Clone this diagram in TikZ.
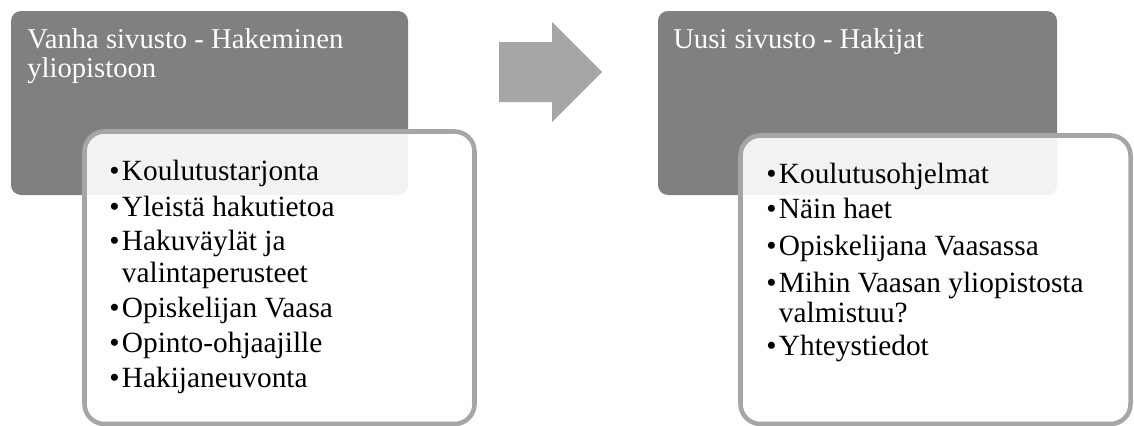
\documentclass[tikz,border=0pt]{standalone}
\usepackage{fontspec}
\setmainfont{Liberation Serif}
\usetikzlibrary{positioning}

\definecolor{boxgray}{HTML}{808080}
\definecolor{rimgray}{HTML}{A6A6A6}

\tikzset{
  headbox/.style={fill=boxgray,draw=none,rounded corners=7.5pt},
  listbox/.style={fill=white,fill opacity=0.9,draw=rimgray,line width=3.4pt,rounded corners=15pt},
  shiftarrow/.style={fill=rimgray,draw=none},
  headtext/.style={font=\fontsize{21.5}{25}\selectfont,text=white,anchor=base west,inner sep=0pt},
  itemtext/.style={font=\fontsize{22}{26}\selectfont,text=black,anchor=base west,inner sep=0pt},
}
\newcommand{\bul}{\makebox[9.5pt][l]{•}}

\begin{document}
\begin{tikzpicture}[x=0.75pt,y=-0.75pt]
\useasboundingbox (0,0) rectangle (1134,425);

% old site
\draw[headbox] (11,11) rectangle (408,195);
\draw[listbox] (84.5,131.5) rectangle (474.5,424);
\node[headtext] (oldtitle) at (27,48) {Vanha sivusto - Hakeminen};
\node[headtext] (oldtitleb) at (27,77) {yliopistoon};
\node[itemtext] (old1) at (109,180) {\bul Koulutustarjonta};
\node[itemtext] (old2) at (109,216) {\bul Yleistä hakutietoa};
\node[itemtext] (old3) at (109,250) {\bul Hakuväylät ja};
\node[itemtext] (old3b) at (121.7,282) {valintaperusteet};
\node[itemtext] (old4) at (109,317) {\bul Opiskelijan Vaasa};
\node[itemtext] (old5) at (109,352) {\bul Opinto-ohjaajille};
\node[itemtext] (old6) at (109,387) {\bul Hakijaneuvonta};

% arrow between the two sites
\fill[shiftarrow] (499,42) -- (552,42) -- (552,22) -- (602,72) -- (552,122) -- (552,102) -- (499,102) -- cycle;

% new site
\draw[headbox] (658,11) rectangle (1057,195);
\draw[listbox] (740.5,135.5) rectangle (1130.5,424);
\node[headtext] (newtitle) at (673,48) {Uusi sivusto - Hakijat};
\node[itemtext] (new1) at (766,183) {\bul Koulutusohjelmat};
\node[itemtext] (new2) at (766,218) {\bul Näin haet};
\node[itemtext] (new3) at (766,255) {\bul Opiskelijana Vaasassa};
\node[itemtext] (new4) at (766,292) {\bul Mihin Vaasan yliopistosta};
\node[itemtext] (new4b) at (778.7,322) {valmistuu?};
\node[itemtext] (new5) at (766,355) {\bul Yhteystiedot};

\end{tikzpicture}
\end{document}
